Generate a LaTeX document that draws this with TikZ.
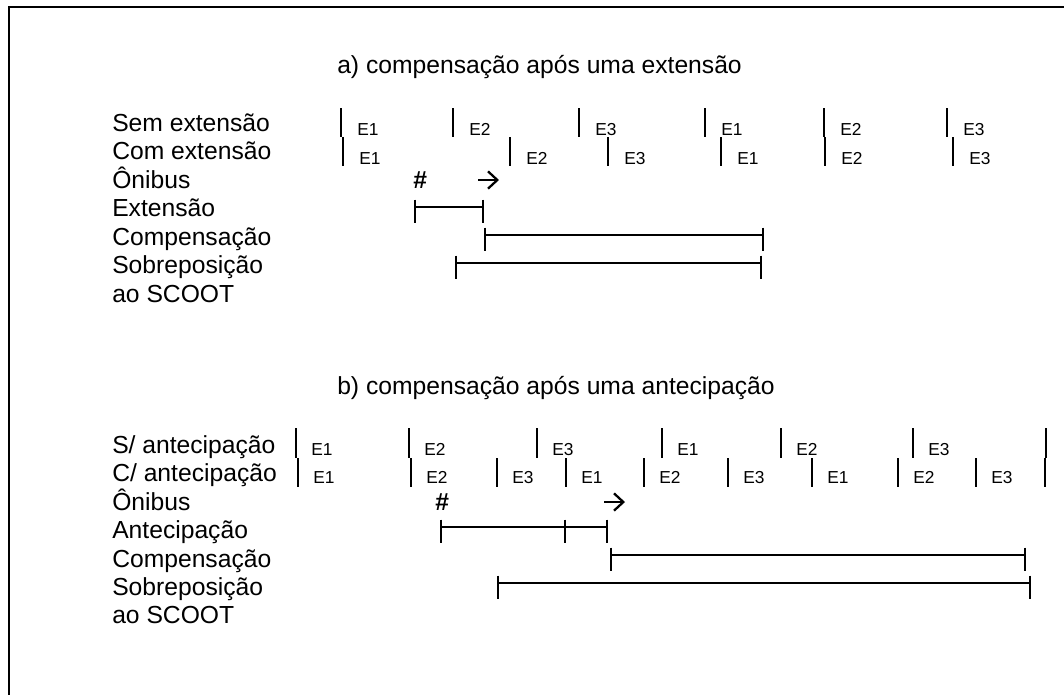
\documentclass[tikz,border=0pt]{standalone}
\usepackage{fontspec}
\setmainfont{Liberation Sans}
\usetikzlibrary{arrows.meta}
\newcommand{\rowfont}{\fontsize{18.5}{20}\selectfont}
\newcommand{\stfont}{\fontsize{13}{14}\selectfont}

\begin{document}
\begin{tikzpicture}[x=0.75pt,y=-0.75pt,
		rowlabel/.style={anchor=base west,font=\rowfont},
		stage/.style={anchor=base west,font=\stfont},
		stagebar/.style={line width=1.7pt},
		spanbar/.style={line width=0.9pt},
		spanend/.style={line width=1.4pt},
		busarrow/.style={line width=1.7pt,-{Straight Barb[length=7pt,width=13pt]}}]
		\tikzstyle{every node}+=[inner sep=0pt]
		\useasboundingbox (0,0) rectangle (1064,694);
		\draw [black,line width=1pt] (9,7) rectangle (1090,720);
		% a) extension
		\node [rowlabel] (titleA) at (337,73) {a) compensação após uma extensão};
		\node [rowlabel] (semA) at (112,131) {Sem extensão};
		\node [rowlabel] (comA) at (112,159) {Com extensão};
		\node [rowlabel] (busA) at (112,188) {Ônibus};
		\node [rowlabel] (extA) at (112,216) {Extensão};
		\node [rowlabel] (compA) at (112,245) {Compensação};
		\node [rowlabel] (overA) at (112,273) {Sobreposição};
		\node [rowlabel] (scootA) at (112,302) {ao SCOOT};
		\foreach \x/\e in {341/E1,453/E2,579/E3,705/E1,824/E2,947/E3} {
			\draw [stagebar] (\x,108) -- (\x,137);
			\node [stage] (semA-\x) at (\x+16,135) {\e};
		}
		\foreach \x/\e in {343/E1,510/E2,608/E3,721/E1,825/E2,953/E3} {
			\draw [stagebar] (\x,137) -- (\x,166);
			\node [stage] (comA-\x) at (\x+16,164) {\e};
		}
		\node [rowlabel,font=\rowfont\bfseries] (hashA) at (413,188) {\#};
		\coordinate (arrA0) at (478,180);
		\coordinate (arrA1) at (499,180);
		\draw [busarrow] (arrA0) -- (arrA1);
		\coordinate (ext0) at (415,207);
		\coordinate (ext1) at (483,207);
		\coordinate (cmpA0) at (485,235);
		\coordinate (cmpA1) at (763,235);
		\coordinate (ovA0) at (456,263);
		\coordinate (ovA1) at (761,263);
		\draw [spanbar] (ext0) -- (ext1);
		\draw [spanbar] (cmpA0) -- (cmpA1);
		\draw [spanbar] (ovA0) -- (ovA1);
		\foreach \c in {ext0,ext1,cmpA0,cmpA1,ovA0,ovA1}
			\draw [spanend] ([yshift=5.5pt]\c) -- ([yshift=-12pt]\c);
		% b) anticipation
		\node [rowlabel] (titleB) at (337,394) {b) compensação após uma antecipação};
		\node [rowlabel] (semB) at (112,453) {S/ antecipação};
		\node [rowlabel] (comB) at (112,481) {C/ antecipação};
		\node [rowlabel] (busB) at (112,510) {Ônibus};
		\node [rowlabel] (antB) at (112,538) {Antecipação};
		\node [rowlabel] (compB) at (112,567) {Compensação};
		\node [rowlabel] (overB) at (112,595) {Sobreposição};
		\node [rowlabel] (scootB) at (112,623) {ao SCOOT};
		\foreach \x/\e in {296/E1,409/E2,537/E3,662/E1,781/E2,913/E3} {
			\draw [stagebar] (\x,428) -- (\x,458);
			\node [stage] (semB-\x) at (\x+15,455) {\e};
		}
		\draw [stagebar] (1046,428) -- (1046,458);
		\foreach \x/\e in {298/E1,411/E2,497/E3,566/E1,644/E2,728/E3,812/E1,898/E2,976/E3} {
			\draw [stagebar] (\x,458) -- (\x,487);
			\node [stage] (comB-\x) at (\x+15,483) {\e};
		}
		\draw [stagebar] (1045,458) -- (1045,487);
		\node [rowlabel,font=\rowfont\bfseries] (hashB) at (435,510) {\#};
		\coordinate (arrB0) at (604,502);
		\coordinate (arrB1) at (625,502);
		\draw [busarrow] (arrB0) -- (arrB1);
		\coordinate (ant0) at (441,527);
		\coordinate (ant1) at (565,527);
		\coordinate (ant2) at (607,527);
		\coordinate (cmpB0) at (611,555);
		\coordinate (cmpB1) at (1025,555);
		\coordinate (ovB0) at (498,583);
		\coordinate (ovB1) at (1030,583);
		\draw [spanbar] (ant0) -- (ant1) -- (ant2);
		\draw [spanbar] (cmpB0) -- (cmpB1);
		\draw [spanbar] (ovB0) -- (ovB1);
		\foreach \c in {ant0,ant1,ant2,cmpB0,cmpB1,ovB0,ovB1}
			\draw [spanend] ([yshift=5.5pt]\c) -- ([yshift=-12pt]\c);
\end{tikzpicture}
\end{document}
